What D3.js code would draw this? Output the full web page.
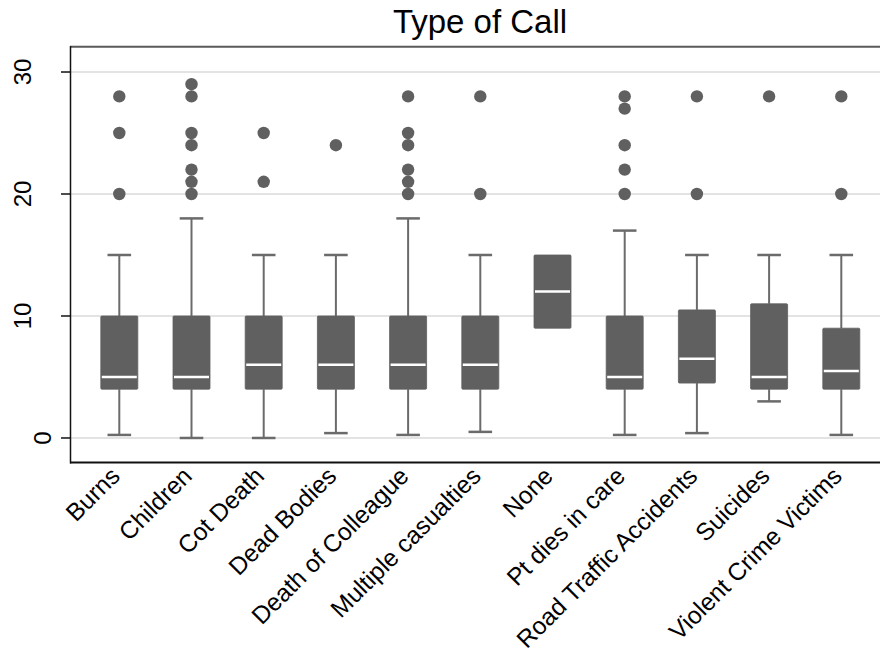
<!DOCTYPE html>
<html>
<head>
<meta charset="utf-8">
<script src="https://cdn.jsdelivr.net/npm/d3@7"></script>
<style>
  html, body { margin: 0; padding: 0; background: #fff; }
  svg { display: block; font-family: "Liberation Sans", Arial, Helvetica, sans-serif; }
</style>
</head>
<body>
<svg id="chart" width="880" height="660"></svg>
<script>
// Box-plot summary for each type of call
const categories = ["Burns", "Children", "Cot Death", "Dead Bodies", "Death of Colleague",
  "Multiple casualties", "None", "Pt dies in care", "Road Traffic Accidents", "Suicides",
  "Violent Crime Victims"];
const lowerWhisker = [0.25, 0, 0, 0.4, 0.25, 0.5, 9, 0.25, 0.4, 3, 0.25];
const q1 = [4, 4, 4, 4, 4, 4, 9, 4, 4.5, 4, 4];
const median = [5, 5, 6, 6, 6, 6, 12, 5, 6.5, 5, 5.5];
const q3 = [10, 10, 10, 10, 10, 10, 15, 10, 10.5, 11, 9];
const upperWhisker = [15, 18, 15, 15, 18, 15, 15, 17, 15, 15, 15];
const outliers = [
  [20, 25, 28],
  [20, 21, 22, 24, 25, 28, 29],
  [21, 25],
  [24],
  [20, 21, 22, 24, 25, 28],
  [20, 28],
  [],
  [20, 22, 24, 27, 28],
  [20, 28],
  [28],
  [20, 28]
];
const yTicks = [0, 10, 20, 30];
const title = "Type of Call";

const svg = d3.select("#chart");
const plot = { left: 70, right: 880, top: 47, bottom: 462.5 };

const x = d3.scalePoint().domain(categories).range([119.3, 841.3]);
const y = d3.scaleLinear().domain([-2.01, 32.05]).range([plot.bottom, plot.top]);

const boxColor = "#606060";
const lineColor = "#6b6b6b";
const boxHalf = 18.5;
const capHalf = 11.8;

// grid lines
svg.append("g").selectAll("line").data(yTicks).join("line")
  .attr("x1", plot.left).attr("x2", plot.right)
  .attr("y1", d => y(d)).attr("y2", d => y(d))
  .attr("stroke", "#e3e3e3").attr("stroke-width", 2);

// frame top
svg.append("line").attr("x1", plot.left).attr("x2", plot.right)
  .attr("y1", plot.top - 0.3).attr("y2", plot.top - 0.3)
  .attr("stroke", "#5a5a5a").attr("stroke-width", 2);

const stats = categories.map((c, i) => ({
  cat: c, lo: lowerWhisker[i], q1: q1[i], med: median[i], q3: q3[i], hi: upperWhisker[i], out: outliers[i]
}));

const g = svg.append("g");
const boxes = g.selectAll("g.box").data(stats).join("g").attr("class", "box");

// whiskers
boxes.filter(d => d.hi > d.q3).append("line")
  .attr("x1", d => x(d.cat)).attr("x2", d => x(d.cat))
  .attr("y1", d => y(d.q3)).attr("y2", d => y(d.hi))
  .attr("stroke", lineColor).attr("stroke-width", 2);
boxes.filter(d => d.lo < d.q1).append("line")
  .attr("x1", d => x(d.cat)).attr("x2", d => x(d.cat))
  .attr("y1", d => y(d.q1)).attr("y2", d => y(d.lo))
  .attr("stroke", lineColor).attr("stroke-width", 2);
// caps
boxes.filter(d => d.hi > d.q3).append("line")
  .attr("x1", d => x(d.cat) - capHalf).attr("x2", d => x(d.cat) + capHalf)
  .attr("y1", d => y(d.hi)).attr("y2", d => y(d.hi))
  .attr("stroke", lineColor).attr("stroke-width", 2.5);
boxes.filter(d => d.lo < d.q1).append("line")
  .attr("x1", d => x(d.cat) - capHalf).attr("x2", d => x(d.cat) + capHalf)
  .attr("y1", d => y(d.lo)).attr("y2", d => y(d.lo))
  .attr("stroke", lineColor).attr("stroke-width", 2.5);

// boxes
boxes.append("rect")
  .attr("x", d => x(d.cat) - boxHalf).attr("width", boxHalf * 2)
  .attr("y", d => y(d.q3)).attr("height", d => y(d.q1) - y(d.q3))
  .attr("rx", 1)
  .attr("fill", boxColor).attr("stroke", boxColor).attr("stroke-width", 0.8);

// medians
boxes.append("line")
  .attr("x1", d => x(d.cat) - boxHalf + 1).attr("x2", d => x(d.cat) + boxHalf - 1)
  .attr("y1", d => y(d.med)).attr("y2", d => y(d.med))
  .attr("stroke", "#ffffff").attr("stroke-width", 2.5);

// outside values
boxes.selectAll("circle").data(d => d.out.map(v => ({ cat: d.cat, v }))).join("circle")
  .attr("cx", d => x(d.cat)).attr("cy", d => y(d.v)).attr("r", 6.2)
  .attr("fill", boxColor);

// left axis line and bottom axis line
svg.append("line").attr("x1", plot.left + 0.5).attr("x2", plot.left + 0.5)
  .attr("y1", plot.top - 1).attr("y2", plot.bottom + 1)
  .attr("stroke", "#111").attr("stroke-width", 1.5);
svg.append("line").attr("x1", plot.left).attr("x2", plot.right)
  .attr("y1", plot.bottom).attr("y2", plot.bottom)
  .attr("stroke", "#111").attr("stroke-width", 2);

// y ticks and vertical labels
const yAx = svg.append("g");
yAx.selectAll("line").data(yTicks).join("line")
  .attr("x1", plot.left - 9).attr("x2", plot.left)
  .attr("y1", d => y(d)).attr("y2", d => y(d))
  .attr("stroke", "#111").attr("stroke-width", 1.5);
const yLab = yAx.selectAll("text").data(yTicks).join("text")
  .text(d => d)
  .attr("font-size", 24)
  .attr("text-anchor", "middle")
  .attr("dominant-baseline", "central")
  .attr("fill", "#000");
yLab.each(function (d) {
  const L = this.getComputedTextLength();
  const cx = plot.left - 7.6 - 1.5 * L;
  d3.select(this).attr("transform", `translate(${cx},${y(d)}) rotate(-90)`);
});

// x labels rotated 45 degrees
svg.append("g").selectAll("text").data(categories).join("text")
  .text(d => d)
  .attr("font-size", 24.5)
  .attr("text-anchor", "end")
  .attr("fill", "#000")
  .attr("transform", d => `translate(${x(d) + 2},${plot.bottom + 15}) rotate(-45)`);

// title
svg.append("text")
  .attr("x", 480).attr("y", 33)
  .attr("text-anchor", "middle")
  .attr("font-size", 33)
  .attr("fill", "#000")
  .text(title);
</script>
</body>
</html>
